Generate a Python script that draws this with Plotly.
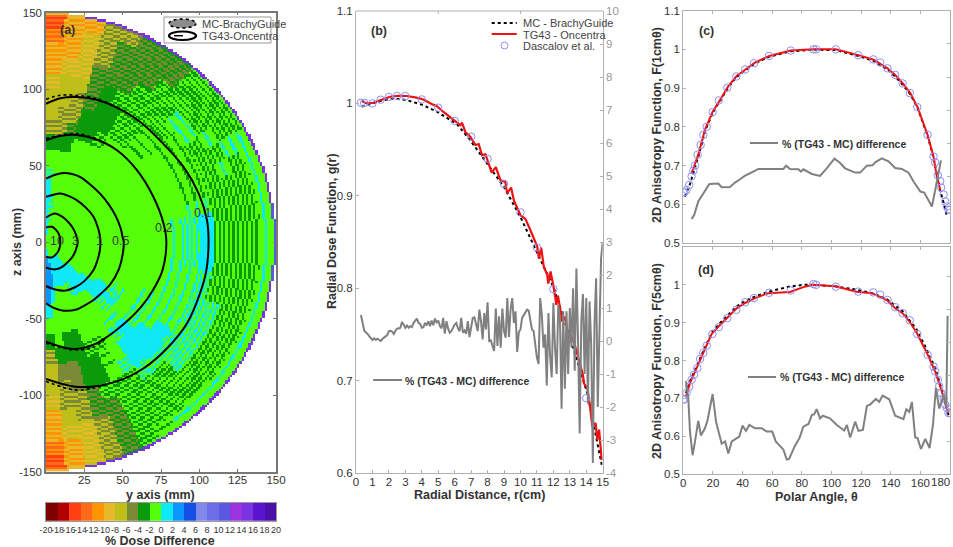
import numpy as np
import plotly.graph_objects as go

W, H = 953, 547

# ---------- panel (a): colour table and polar-binned read-off of dose differences
band_colors = ["#7f0000", "#b30000", "#ff4010", "#ff6a1a", "#ff9500", "#e6b82c", "#bfbf1a", "#7a8a36",
               "#0a9a0a", "#55ff0a", "#0fe8f5", "#0a96ff", "#1450e6", "#8088e8", "#6b6ee6", "#5a5ae0",
               "#9a33e0", "#7a33e0", "#5a14d0", "#4a10a8"]
band_centers = list(range(-19, 20, 2))
cbar_ticks = list(range(-20, 21, 2))

# each code gives the dose differences seen on successive rings
code_vals = {"g": (-1,), "c": (1,), "b": (3,), "d": (-3,), "o": (-5,), "y": (-7,),
             "m": (-1, -3), "n": (-1, 1), "p": (-3, -5), "q": (-5, -7), "s": (-7, -9), "t": (-9, -11),
             "u": (-11, -13), "v": (-13, -15), "l": (-1, -1, -1, -3), "k": (-1, -1, -1, 1),
             "Y": (-9,), "P": (13, 15), "B": (5, 11)}
# rows: polar angle from +z, 5 deg each; columns: radius 0-10, 10-20 ... 140-148.5 mm
dose_rows = [
    "ccccngdqyysttuv", "cnngggdqqyysttt", "ngggggdpqqyssst", "gggggggddpppqqq",
    "gggggggddddpppq", "gggggggmddmpppp", "ggggggggmmmmppp", "ggggggggmmmmmpp",
    "ggggggggllmmmmm", "ggggggggllmkmmm", "gggggggggllkmmm", "gggggggggllmkmm",
    "gggggggggllmmkk", "gggggggggllmkmk", "gggggggggllmmmk", "gggggggggkkmmmk",
    "ggggggggkncmmmk", "ggggggggkncmmmk", "ggggggggkncmmmk", "ggggggggkncmmmk",
    "ggggggggkknmmmk", "ggggggggkknmmmk", "ggggggggkknnmmk", "gggggggkkknnmmk",
    "gggggkgkkkknmmk", "ggggcngkkcnnmmk", "gggcccgkccnnmmk", "ggcccnkcccnmmmk",
    "gcccggknccnmmmk", "gcccgggggnmmmml", "gccngggmlgmmmmm", "gccggggmddmpppp",
    "gccgggddddppqqq", "gccgggddooqqsss", "cbbcgggdoqqystt", "cbbbcgdqyysttuv"]
dose_edge = "YY" + "P" * 14 + "B" * 4 + "P" * 14 + "YY"   # outer rim, 148.5-150 mm

c01_y = [0, 9.3, 20, 33, 46, 61.5, 76.7, 89.8, 99.6, 105, 106, 104.6, 100.6, 92, 79, 63.7, 46.3, 31, 18, 0]
c01_z = [90.4, 94, 94.8, 93, 88, 78.5, 64, 49, 31.7, 14.3, 0, -18.3, -33, -53, -69.3, -82.4, -91, -94.3, -94.3, -89.4]
c02_y = [0, 9.3, 20, 33, 46.3, 59.3, 70, 76.7, 78.5, 76, 70, 61.5, 46, 31, 18, 0]
c02_z = [66.5, 69.3, 70, 67, 60, 47, 29.6, 12, 0, -18.3, -31, -43, -57.4, -67, -69.8, -65]
c05_y = [0, 6, 11.5, 17, 22.4, 29, 35.4, 41, 45.5, 48.7, 50, 50.7, 50, 47.4, 42, 36, 31, 25, 20, 11.5, 5, 0]
c05_z = [41.5, 44, 45.2, 44.5, 42.5, 37.5, 31.5, 24.5, 17, 9, 3, 0, -8, -18, -27.5, -33.5, -37.8, -41.5, -44, -44.8, -43, -40]
c1_y = [0, 5, 9.3, 15, 20, 26, 31, 34, 35.4, 35.2, 33.5, 31, 25, 19, 12.6, 6, 0]
c1_z = [29.6, 31, 31.7, 30, 27.4, 22.5, 16.5, 9, 2, -5, -12, -18.3, -25.5, -29.5, -31.7, -31, -28.7]
c3_y = [0, 3, 6, 10, 13.7, 17, 19.5, 20.7, 19.5, 17, 13.7, 10, 6, 3, 0]
c3_z = [16, 17.8, 18.7, 17, 14, 10, 5, 0, -5, -10, -13.5, -16.5, -17.8, -17.5, -16.5]
c10_y = [0, 2, 4, 6.5, 8.5, 9.3, 8.5, 6.5, 4, 2, 0]
c10_z = [9.6, 10, 10, 8, 5, 0, -5, -8, -10, -10, -9.6]
mc_top01_y = [0, 9.3, 20, 33, 46]
mc_top01_z = [93.3, 95.9, 95.9, 93.7, 88.3]
mc_bot01_y = [0, 18, 31, 42]
mc_bot01_z = [-91, -96.5, -95.4, -92]
mc_top02_y = [0, 18, 31, 40]
mc_top02_z = [67.6, 70.9, 68.3, 64]
mc_bot02_y = [0, 18, 31, 40]
mc_bot02_z = [-66, -70.4, -68.7, -62]
contour_labels = ["10", "3", "1", "0.5", "0.2", "0.1"]
contour_label_y = [7, 19, 35, 48.5, 76.5, 102]
contour_label_z = [1, 1, 1, 1, 9, 19]

# ---------- panel (b)
red_b_r = [.35, .65, 1.05, 1.56, 2.07, 2.58, 3.09, 3.6, 4.1, 4.6, 4.92, 5.3, 5.73, 6.14, 6.34, 6.45, 6.65, 6.95, 7.26,
           7.46, 7.66, 7.87, 8.07, 8.25, 8.5, 8.78, 9.08, 9.19, 9.43, 9.6, 10, 10.3, 10.6, 11.02, 11.12, 11.26, 11.42,
           11.63, 11.69, 11.83, 12.03, 12.18, 12.28, 12.54, 12.7, 12.85, 13.25, 13.56, 13.8, 13.86, 14.07, 14.23,
           14.37, 14.57, 14.67, 14.78, 14.94]
red_b_g = [1.0025, 1.0, 1.0007, 1.0036, 1.0072, 1.0083, 1.008, 1.0065, 1.0043, .9993, .997, .991, .985, .98, .9765,
           .979, .969, .964, .955, .956, .944, .945, .935, .925, .931, .917, .915, .9025, .909, .895, .879, .875,
           .863, .845, .832, .844, .823, .8144, .805, .818, .80, .782, .792, .764, .769, .755, .742, .722, .706,
           .697, .6917, .672, .65, .654, .636, .647, .614]
mc_b_r = [.35, .65, 1.56, 2.28, 3.09, 4.1, 4.92, 6.14, 6.95, 7.97, 8.98, 10, 11.02, 12.03, 13.05, 14.07, 14.94]
mc_b_g = [.9965, .998, 1.003, 1.0054, 1.0036, .998, .991, .9776, .96, .935, .91, .877, .839, .8, .744, .686, .609]
das_b_r = [.3, .5, 1, 1.5, 2, 2.5, 3, 4, 5, 6, 7, 8, 9, 10, 11, 12, 13, 14]
das_b_g = [1.0007, 1.0005, 1.0, 1.004, 1.007, 1.008, 1.008, 1.0043, .9953, .981, .964, .94, .913, .882, .844, .799, .746, .681]
diff_b_r = [round(.3 + .1 * i, 1) for i in range(148)]
diff_b = [.79, .55, .32, .26, .22, .15, .10, .03, .08, .03, .07, .02, .0, .06, .10, .12, .18, .30, .31, .28, .21, .31,
          .38, .38, .40, .58, .48, .40, .47, .40, .45, .42, .55, .60, .68, .55, .52, .40, .42, .55, .47, .60, .45, .62,
          .48, .68, .55, .62, .45, .38, .70, .22, .60, .38, .25, .30, .42, .50, .55, .38, .30, .70, .25, .32, .22, .60,
          .12, .42, .70, .72, .45, .30, .95, .60, .05, .85, .35, 1.17, 0, .02, -.15, -.3, .98, -.15, .75, -.2, .98, .3,
          .1, 1.3, .12, .95, 1.30, .55, .9, -.33, .27, .35, .7, .8, .85, .95, .92, .6, .35, .3, -.2, -.5, -.7, 1.3, .8,
          -.2, .2, -1.35, .85, -.45, -1.1, 1.15, -.2, -1.0, 1.1, .7, -2.05, .9, -1.45, .9, -1.0, 1.0, -.2, 1.6, -.9,
          2.2, 0, -2.8, .6, 1.42, -1.0, 1.3, -1.9, 1.2, -.1, -3.7, .5, 1.9, -2.0, -.1, 2.5, 3.0]

# ---------- panel (c)
red_c_t = [5.6, 10.1, 14.6, 19.8, 24.8, 30.4, 36, 41.7, 48.4, 58, 72.5, 87.8, 102.9, 118.2, 128.4, 137.8, 143, 148.2,
           153.2, 158.1, 164.9, 168.9, 170.7, 173.4]
red_c_f = [.68, .728, .792, .839, .869, .905, .931, .948, .966, .983, .997, 1, 1, .985, .973, .951, .934, .912, .887,
           .851, .779, .723, .68, .637]
mc_c_t = [1.1, 4.5, 10.1, 14.6, 19.8, 24.8, 30.4, 36, 41.7, 48.4, 58, 72.5, 87.8, 102.9, 118.2, 128.4, 137.8, 143,
          148.2, 153.2, 158.1, 164.9, 168.9, 173.4, 176, 178]
mc_c_f = [.62, .652, .722, .788, .836, .866, .902, .929, .946, .964, .981, .995, .999, .998, .983, .97, .948, .93,
          .908, .884, .849, .776, .72, .635, .60, .567]
das_c_t = [0, .7, 2.2, 4, 5.6, 6.8, 7.9, 9.7, 11.7, 13.5, 15.8, 19.8, 23.9, 29.7, 35.8, 41.7, 47.7, 57.9, 72.5, 87.8,
           89.6, 102.9, 118, 128.2, 132.9, 137.8, 143, 148, 152.9, 157.9, 164.9, 168.9, 170, 171.8, 173.4, 174, 175.7,
           176.8, 178, 179, 180]
das_c_f = [.631, .631, .637, .65, .672, .687, .70, .728, .753, .779, .80, .838, .868, .901, .93, .948, .964, .983, .997,
           1, 1, 1, .985, .974, .966, .951, .934, .912, .887, .851, .779, .723, .708, .675, .66, .643, .625, .607, .594,
           .586, .586]
diff_c_t = [5.6, 7.4, 10.1, 13.5, 17.6, 23.6, 25.9, 31.5, 34.9, 38.3, 41.7, 46.2, 50.7, 67.6, 69.4, 72, 77.7, 79.3, 81,
            86.7, 92.3, 96.8, 102, 105.9, 109.2, 116, 119.4, 123.9, 127.7, 129.5, 134, 138.5, 143, 147.5, 152, 155.4,
            160, 162.6, 167.8, 170.5, 173.9]
diff_c = [-.28, -.15, .25, .5, .78, .79, .68, .69, .82, .92, 1.03, 1.13, 1.23, 1.23, 1.33, 1.23, 1.22, 1.15, 1.22, 1.08,
          1.02, 1.25, 1.54, 1.41, 1.25, 1.12, 1.12, 1.33, 1.34, 1.43, 1.55, 1.46, 1.26, 1.23, 1.12, .85, .55, .52, .1,
          .7, 1.49]

# ---------- panel (d)
red_d_t = [1.8, 4.5, 9, 14.6, 19.1, 24.8, 30.4, 36, 41.7, 48.4, 57.4, 72, 81, 87.8, 102.5, 117, 127.3, 137.4, 143, 148,
           152.7, 157.7, 164.4, 170, 174.5, 179]
red_d_f = [.705, .74, .78, .828, .87, .894, .916, .938, .952, .965, .978, .981, .994, 1, .996, .982, .978, .96, .938,
           .925, .903, .872, .82, .771, .718, .661]
mc_d_t = [1.8, 4.5, 9, 14.6, 19.1, 24.8, 30.4, 36, 41.7, 48.4, 57.4, 72, 81, 87.8, 102.5, 117, 127.3, 137.4, 148, 157.7,
          164.4, 170, 174.5, 179]
mc_d_f = [.714, .745, .785, .834, .873, .899, .921, .943, .957, .969, .982, .9956, 1, 1, .996, .987, .978, .962, .93,
          .881, .828, .78, .722, .655]
das_d_t = [0, .7, 2.2, 4, 5.6, 7.2, 9.5, 11.3, 13.5, 15.8, 19.6, 23.9, 29.7, 35.8, 41.7, 47.7, 57.9, 72.5, 87.8, 89.6,
           102.9, 118, 128.2, 132.9, 137.8, 143, 148, 152.9, 157.9, 164.9, 168.9, 170, 171.8, 172.7, 174, 175.7, 176.8,
           178, 179, 180]
das_d_f = [.696, .698, .714, .731, .749, .762, .78, .804, .82, .839, .87, .888, .912, .934, .954, .965, .979, .985, 1.002,
           1, .995, .982, .98, .974, .96, .941, .925, .906, .87, .815, .784, .771, .749, .732, .714, .70, .683, .674,
           .661, .661]
diff_d_t = [1.8, 3.4, 4.5, 6.3, 7.9, 10.1, 11.9, 14.6, 16.4, 19.8, 22.1, 24.1, 25.9, 28.2, 30.4, 32.7, 36, 37.8, 40,
            42.3, 44.6, 48.4, 52.9, 56.3, 60, 62.4, 67.6, 69.8, 71.4, 75.4, 78.4, 81, 84.5, 86.7, 88.3, 90, 92.3, 94.1,
            99, 103.6, 108.6, 110.4, 112.6, 116, 118.2, 121.2, 123.9, 126.1, 130, 132.2, 134.5, 139, 143, 145.7, 148.6,
            150.5, 152.5, 154.3, 156.5, 158.1, 160.4, 163.3, 166.2, 168.5, 170.5, 172.7, 175.7, 177.5, 178.4]
diff_d = [1.82, 1.3, .29, -.43, -.01, .61, .17, .39, .64, 1.43, .59, .19, -.08, -.01, -.38, -.01, .09, .14, .47, .31, .49,
          .39, .39, .29, .29, -.01, -.26, -.56, -.54, -.14, .09, .44, .52, .79, .81, .97, .69, .77, .69, .49, .32, .49,
          .11, .59, .31, .34, 1.07, 1.11, 1.28, 1.19, 1.38, 1.27, .77, .71, .67, .97, .89, 1.19, .11, .09, -.24, .07,
          -.21, .49, 1.62, .99, 1.4, 1.04, 3.81]

x_ticks_b = list(range(0, 16))
g_ticks = [.6, .7, .8, .9, 1, 1.1]
g_labels = ["0.6", "0.7", "0.8", "0.9", "1", "1.1"]
theta_ticks = list(range(0, 181, 20))
theta_labels = [str(v) for v in theta_ticks[:-1]] + [""]
f_ticks = [.5, .6, .7, .8, .9, 1, 1.1]
f_labels = ["0.5", "0.6", "0.7", "0.8", "0.9", "1", "1.1"]

# ---------- helpers
FONT = "Liberation Sans"
TXT = "#333333"
FRAME_A = "#777777"
FRAME = "#b0b0b0"
GREY = "#808080"
RED = "#ee1111"
CIRC = "#8f8ff5"


def px(x):
    return x / W


def py(y):
    return 1 - y / H


anns, shapes = [], []


def note(x, y, text, size=11.5, bold=False, color=TXT, angle=0, anchor="center"):
    t = f"<b>{text}</b>" if bold else text
    anns.append(dict(x=px(x), y=py(y), xref="paper", yref="paper", text=t, showarrow=False, xanchor=anchor,
                     yanchor="middle", textangle=angle, font=dict(family=FONT, size=size, color=color)))


def seg(x0, y0, x1, y1, color, width, dash="solid"):
    shapes.append(dict(type="line", xref="paper", yref="paper", x0=px(x0), y0=py(y0), x1=px(x1), y1=py(y1),
                       line=dict(color=color, width=width, dash=dash)))


# ---------- build the fine grid for (a) by looking up the read-off table
cell = 1.5
ys = np.arange(cell / 2, 150, cell)
zs = np.arange(-150 + cell / 2, 150, cell)
grid = np.full((len(zs), len(ys)), np.nan)
for i, zv in enumerate(zs):
    for j, yv in enumerate(ys):
        r = float(np.hypot(yv, zv))
        if r > 150:
            continue
        row = min(35, int(np.degrees(np.arctan2(yv, zv)) / 5))
        code = dose_edge[row] if r >= 148.5 else dose_rows[row][min(14, int(r / 10))]
        vals = code_vals[code]
        grid[i, j] = vals[int(r / cell) % len(vals)]

scale = []
for k, c in enumerate(band_colors):
    scale += [[k / 20, c], [(k + 1) / 20, c]]

fig = go.Figure()
common_hm = dict(colorscale=scale, zmin=-20, zmax=20, showscale=False, hoverinfo="skip")
fig.add_trace(go.Heatmap(x=ys, y=zs, z=grid, xaxis="x", yaxis="y", **common_hm))
fig.add_trace(go.Heatmap(x=band_centers, y=[0], z=[band_centers], xaxis="x2", yaxis="y2", **common_hm))

for ax, az in [(c01_y, c01_z), (c02_y, c02_z), (c05_y, c05_z), (c1_y, c1_z), (c3_y, c3_z), (c10_y, c10_z)]:
    fig.add_trace(go.Scatter(x=ax, y=az, mode="lines", xaxis="x", yaxis="y", showlegend=False,
                             line=dict(color="black", width=2, shape="spline")))
for ax, az in [(mc_top01_y, mc_top01_z), (mc_bot01_y, mc_bot01_z), (mc_top02_y, mc_top02_z), (mc_bot02_y, mc_bot02_z)]:
    fig.add_trace(go.Scatter(x=ax, y=az, mode="lines", xaxis="x", yaxis="y", showlegend=False,
                             line=dict(color="black", width=1.6, dash="dot", shape="spline")))
for t, a, b in zip(contour_labels, contour_label_y, contour_label_z):
    anns.append(dict(x=a, y=b, xref="x", yref="y", text=t, showarrow=False,
                     font=dict(family=FONT, size=12.5, color="#3a3a3a")))


def curve(x, y, xa, ya, color, width, dash="solid"):
    fig.add_trace(go.Scatter(x=x, y=y, mode="lines", xaxis=xa, yaxis=ya, showlegend=False,
                             line=dict(color=color, width=width, dash=dash)))


def rings(x, y, xa, ya):
    fig.add_trace(go.Scatter(x=x, y=y, mode="markers", xaxis=xa, yaxis=ya, showlegend=False,
                             marker=dict(symbol="circle-open", size=7.5, color=CIRC, line=dict(width=1, color=CIRC))))


curve(mc_b_r, mc_b_g, "x3", "y3", "black", 2, "dot")
curve(red_b_r, red_b_g, "x3", "y3", RED, 2.2)
rings(das_b_r, das_b_g, "x3", "y3")
curve(diff_b_r, diff_b, "x3", "y7", GREY, 2)

curve(mc_c_t, mc_c_f, "x4", "y4", "black", 2, "dot")
curve(red_c_t, red_c_f, "x4", "y4", RED, 2)
rings(das_c_t, das_c_f, "x4", "y4")
curve(diff_c_t, diff_c, "x4", "y8", GREY, 2)

curve(mc_d_t, mc_d_f, "x5", "y5", "black", 2, "dot")
curve(red_d_t, red_d_f, "x5", "y5", RED, 2)
rings(das_d_t, das_d_f, "x5", "y5")
curve(diff_d_t, diff_d, "x5", "y9", GREY, 2)

tickfont = dict(family=FONT, size=11.5, color=TXT)


def dom(a, b, size):
    return [a / size, b / size]


def ydom(top, bottom):
    return [1 - bottom / H, 1 - top / H]


base = dict(showgrid=False, zeroline=False, showline=True, ticks="inside", ticklen=3, tickfont=tickfont, tickangle=0,
            automargin=False)
layout = dict(
    width=W, height=H, margin=dict(l=0, r=0, t=0, b=0, autoexpand=False), paper_bgcolor="white", plot_bgcolor="white",
    showlegend=False,
    xaxis=dict(base, domain=dom(46, 276, W), range=[0, 150], anchor="y", mirror="ticks", linecolor=FRAME_A, linewidth=1.5,
               tickcolor=FRAME_A, tickvals=[25, 50, 75, 100, 125, 150], ticklabelstandoff=-3),
    yaxis=dict(base, domain=ydom(12.5, 471.7), range=[-150, 150], anchor="x", mirror="ticks", linecolor=FRAME_A,
               linewidth=1.5, tickcolor=FRAME_A, tickvals=[-150, -100, -50, 0, 50, 100, 150],
               ticktext=["-150", "-100", "-50", "0", "50", "100", "150"]),
    xaxis2=dict(base, domain=dom(46, 276, W), range=[-20, 20], anchor="y2", ticks="", tickvals=cbar_ticks, mirror=True,
                ticktext=[str(v) for v in cbar_ticks], linecolor="#999999",
                tickfont=dict(family=FONT, size=9, color=TXT)),
    yaxis2=dict(base, domain=ydom(503, 520.7), range=[-.5, .5], anchor="x2", ticks="", showticklabels=False, mirror=True,
                linecolor="#999999"),
    xaxis3=dict(base, domain=dom(356, 602.7, W), range=[0, 15], anchor="y3", linecolor=FRAME, tickcolor=FRAME,
                tickvals=x_ticks_b, ticklabelstandoff=-2),
    yaxis3=dict(base, domain=ydom(11, 473), range=[.6, 1.1], anchor="x3", linecolor=FRAME, tickcolor=FRAME,
                tickvals=g_ticks, ticktext=g_labels),
    yaxis7=dict(base, domain=ydom(11, 473), range=[-4, 10], anchor="x3", overlaying="y3", side="right", linecolor=FRAME,
                tickcolor=FRAME, tickvals=list(range(-4, 11)), ticktext=[str(v) for v in range(-4, 11)],
                tickfont=dict(family=FONT, size=11.5, color="#999999")),
    xaxis4=dict(base, domain=dom(683.3, 950, W), range=[0, 180], anchor="y4", mirror="ticks", linecolor=FRAME,
                tickcolor=FRAME, tickvals=theta_ticks, showticklabels=False),
    yaxis4=dict(base, domain=ydom(10.6, 243), range=[.5, 1.1], anchor="x4", linecolor=FRAME, tickcolor=FRAME,
                tickvals=f_ticks, ticktext=f_labels),
    yaxis8=dict(base, domain=ydom(10.6, 243), range=[-1, 6], anchor="x4", overlaying="y4", side="right", linecolor=FRAME,
                tickcolor=FRAME, dtick=1, showticklabels=False),
    xaxis5=dict(base, domain=dom(683.3, 950, W), range=[0, 180], anchor="y5", mirror="ticks", linecolor=FRAME,
                tickcolor=FRAME, tickvals=theta_ticks, ticktext=theta_labels, ticklabelstandoff=-2),
    yaxis5=dict(base, domain=ydom(247, 474), range=[.5, 1.1], anchor="x5", linecolor=FRAME, tickcolor=FRAME,
                tickvals=f_ticks[:-1], ticktext=f_labels[:-1]),
    yaxis9=dict(base, domain=ydom(247, 474), range=[-1, 5.9], anchor="x5", overlaying="y5", side="right", linecolor=FRAME,
                tickcolor=FRAME, dtick=1, showticklabels=False),
)

# (b) carries top ticks only at r = 5 and 10
for v in (5, 10):
    shapes.append(dict(type="line", xref="x3", yref="paper", x0=v, x1=v, y0=py(11), y1=py(14),
                       line=dict(color=FRAME, width=1)))
# (b) frame top edge
seg(356, 11, 602.7, 11, FRAME, 1)

# axis titles and panel letters
note(17, 242, "z axis (mm)", 12.5, True, angle=-90)
note(160, 494.5, "y axis (mm)", 12.5, True)
note(160, 541, "% Dose Difference", 12.5, True)
note(332, 231, "Radial Dose Function, g(r)", 12.5, True, angle=-90)
note(479, 495, "Radial Distance, r(cm)", 12.5, True)
note(657, 125, "2D Anisotropy Function, F(1cm\u03b8)", 12.5, True, angle=-90)
note(657, 361, "2D Anisotropy Function, F(5cm\u03b8)", 12.5, True, angle=-90)
note(816, 497, "Polar Angle, \u03b8", 12.5, True)
note(952, 481.5, "180", 11.5, anchor="right")
note(67, 30, "(a)", 12.5, True)
note(379, 31, "(b)", 12.5, True)
note(706, 31, "(c)", 12.5, True)
note(706, 270, "(d)", 12.5, True)

# legend of (a)
shapes.append(dict(type="rect", xref="paper", yref="paper", x0=px(164), x1=px(271), y0=py(43), y1=py(17),
                   fillcolor="white", line=dict(color="#999999", width=1), layer="above"))
shapes.append(dict(type="circle", xref="paper", yref="paper", x0=px(169), x1=px(196), y0=py(28), y1=py(19),
                   fillcolor="rgba(0,0,0,0.45)", line=dict(color="black", width=1.6, dash="dot"), layer="above"))
shapes.append(dict(type="circle", xref="paper", yref="paper", x0=px(169), x1=px(196), y0=py(40), y1=py(31.5),
                   fillcolor="white", line=dict(color="black", width=2.2), layer="above"))
seg(174, 35.7, 192, 35.7, "black", 1.5, "dash")
note(200, 24, "MC-BrachyGuide", 11, color="#444444", anchor="left")
note(200, 36, "TG43-Oncentra", 11, color="#444444", anchor="left")

# legend of (b)
seg(491.7, 23, 516.7, 23, "black", 2, "dot")
seg(491.7, 34, 516.7, 34, RED, 2)
shapes.append(dict(type="circle", xref="paper", yref="paper", x0=px(501), x1=px(508), y0=py(49), y1=py(42),
                   line=dict(color=CIRC, width=1)))
note(521, 23, "MC - BrachyGuide", 11, color="#444444", anchor="left")
note(521, 34.5, "TG43 - Oncentra", 11, color="#444444", anchor="left")
note(521, 46, "Dascalov et al.", 11, color="#444444", anchor="left")

# grey-line labels
seg(373, 380, 402, 380, GREY, 2)
note(403, 380.5, "% (TG43 - MC) difference", 10.5, True, anchor="left")
seg(750, 143, 778, 143, GREY, 2)
note(780, 144, "% (TG43 - MC) difference", 10.5, True, anchor="left")
seg(748, 377, 776, 377, GREY, 2)
note(778, 377, "% (TG43 - MC) difference", 10.5, True, anchor="left")

fig.update_layout(**layout, annotations=anns, shapes=shapes)
fig.write_html("out.html", config={"displayModeBar": False},
               post_script="document.body.style.margin='0';document.body.style.overflow='hidden';")
